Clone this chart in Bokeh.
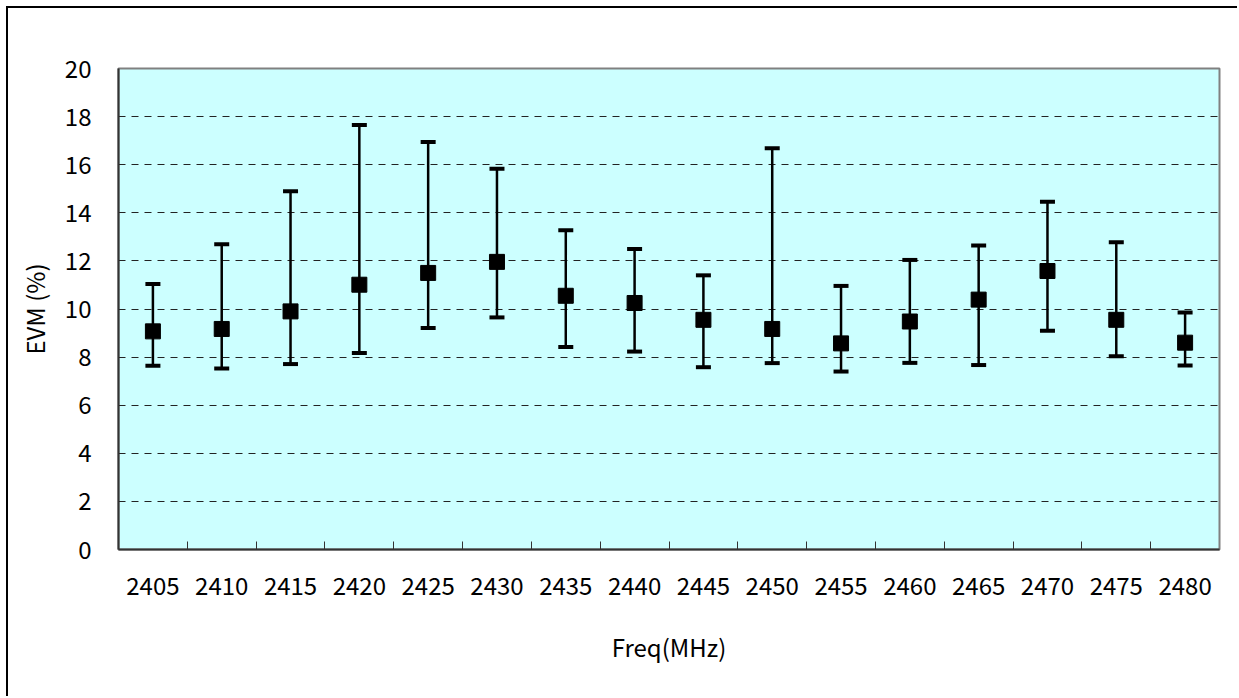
import numpy as np
from bokeh.plotting import figure
from bokeh.models import (ColumnDataSource, Whisker, TeeHead, FixedTicker, Range1d)
from bokeh.embed import file_html
from bokeh.resources import INLINE

freqs = ["2405", "2410", "2415", "2420", "2425", "2430", "2435", "2440",
         "2445", "2450", "2455", "2460", "2465", "2470", "2475", "2480"]
evm_avg = [9.07, 9.17, 9.90, 11.01, 11.50, 11.96, 10.55, 10.25,
           9.55, 9.17, 8.57, 9.48, 10.39, 11.58, 9.55, 8.60]
evm_max = [11.04, 12.69, 14.90, 17.65, 16.94, 15.83, 13.27, 12.50,
           11.40, 16.68, 10.96, 12.04, 12.64, 14.46, 12.78, 9.85]
evm_min = [7.64, 7.53, 7.71, 8.17, 9.21, 9.65, 8.42, 8.23,
           7.58, 7.75, 7.40, 7.76, 7.67, 9.10, 8.04, 7.65]
y_ticks = [0, 2, 4, 6, 8, 10, 12, 14, 16, 18, 20]

n = len(freqs)
xpos = (np.arange(n) + 0.5).tolist()
source = ColumnDataSource(dict(x=xpos, avg=evm_avg, lo=evm_min, hi=evm_max))

FONT = "Noto Sans CJK KR"
FS = "24px"

p = figure(width=1231, height=690, output_backend="svg", toolbar_location=None,
           x_range=Range1d(0, n), y_range=Range1d(0, 20),
           min_border_left=110, min_border_right=20, min_border_top=60,
           min_border_bottom=149,
           background_fill_color="#CCFFFF", border_fill_color="white",
           outline_line_color="#808080", outline_line_width=2)
p.styles = {"margin-left": "6px", "margin-top": "6px",
            "border-left": "2px solid #000", "border-top": "2px solid #000"}

# x axis: labels at centres, tick marks at category boundaries (inside)
p.xaxis.ticker = FixedTicker(ticks=xpos, minor_ticks=list(range(1, n)))
p.xaxis.major_label_overrides = {x: f for x, f in zip(xpos, freqs)}
p.xaxis.major_tick_in = 0
p.xaxis.major_tick_out = 0
p.xaxis.minor_tick_in = 8
p.xaxis.minor_tick_out = 0
p.xaxis.minor_tick_line_color = "#333333"
p.xaxis.minor_tick_line_width = 1
p.xaxis.axis_line_color = "#333333"
p.xaxis.axis_line_width = 2
p.xaxis.major_label_text_font = FONT
p.xaxis.major_label_text_font_size = FS
p.xaxis.major_label_text_color = "black"
p.xaxis.major_label_standoff = 27
p.xaxis.axis_label = "Freq(MHz)"
p.xaxis.axis_label_text_font = FONT
p.xaxis.axis_label_text_font_size = FS
p.xaxis.axis_label_text_font_style = "normal"
p.xaxis.axis_label_text_color = "black"
p.xaxis.axis_label_standoff = 31

p.yaxis.ticker = FixedTicker(ticks=y_ticks)
p.yaxis.major_tick_in = 0
p.yaxis.major_tick_out = 0
p.yaxis.minor_tick_line_color = None
p.yaxis.axis_line_color = "#333333"
p.yaxis.axis_line_width = 2
p.yaxis.major_label_text_font = FONT
p.yaxis.major_label_text_font_size = FS
p.yaxis.major_label_text_color = "black"
p.yaxis.major_label_standoff = 27
p.yaxis.axis_label = "EVM (%)"
p.yaxis.axis_label_text_font = FONT
p.yaxis.axis_label_text_font_size = FS
p.yaxis.axis_label_text_font_style = "normal"
p.yaxis.axis_label_text_color = "black"
p.yaxis.axis_label_standoff = 10

p.xgrid.grid_line_color = None
p.ygrid.ticker = FixedTicker(ticks=y_ticks[1:-1])
p.ygrid.grid_line_color = "#222222"
p.ygrid.grid_line_width = 1
p.ygrid.grid_line_dash = "7 6"

w = Whisker(source=source, base="x", upper="hi", lower="lo",
            line_color="black", line_width=2.5,
            upper_head=TeeHead(size=15, line_width=4, line_color="black"),
            lower_head=TeeHead(size=15, line_width=4, line_color="black"))
p.add_layout(w)

p.scatter("x", "avg", source=source, marker="square", size=15,
          fill_color="black", line_color="black")

open("out.html", "w").write(file_html(p, INLINE))
